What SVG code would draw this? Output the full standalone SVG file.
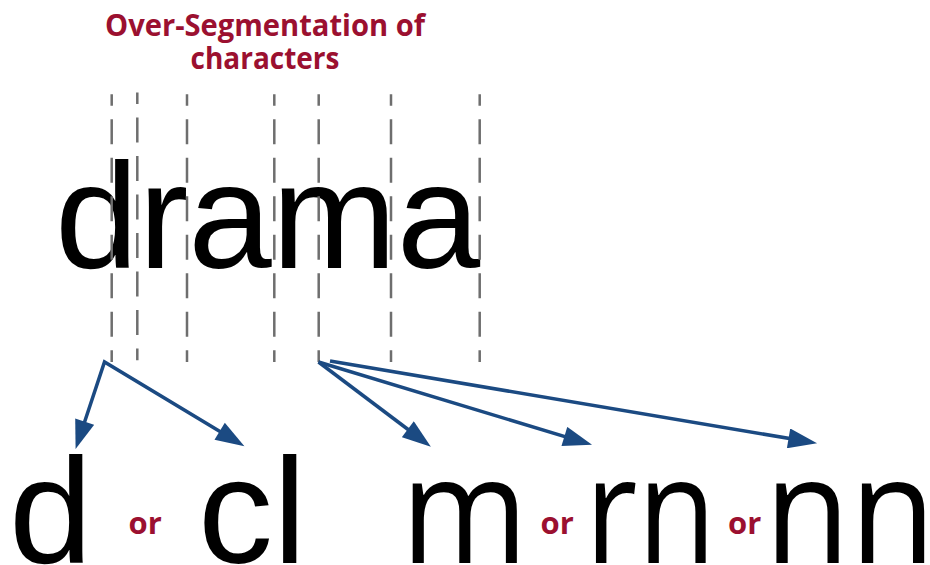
<svg xmlns="http://www.w3.org/2000/svg" width="930" height="565" viewBox="0 0 930 565">
<style>
.title{font-family:"Open Sans","Noto Sans",sans-serif;font-weight:bold;font-size:30px;fill:#9b1030;text-anchor:middle}
.big{font-family:"Liberation Sans",Arial,sans-serif;font-size:150px;fill:#000}
.hum{font-family:"Open Sans","Noto Sans",sans-serif;font-size:148px;fill:#000}
.or{font-family:"Open Sans","Noto Sans",sans-serif;font-weight:bold;font-size:31px;fill:#9b1030}
.seg{stroke:#6e6e6e;stroke-width:2.5;stroke-dasharray:25 13.5;stroke-dashoffset:13.5;fill:none}
.arr{stroke:#1b4a82;stroke-width:3.5;fill:none;marker-end:url(#ah)}
</style>
<defs>
<marker id="ah" markerUnits="userSpaceOnUse" markerWidth="30" markerHeight="20" viewBox="0 0 26 18" refX="16" refY="9" orient="auto">
<path d="M0,0 L26,9 L0,18 Z" fill="#1b4a82"/>
</marker>
<marker id="ahs" markerUnits="userSpaceOnUse" markerWidth="30" markerHeight="20" viewBox="0 0 26 18" refX="16" refY="9" orient="auto-start-reverse">
<path d="M0,0 L26,9 L0,18 Z" fill="#1b4a82"/>
</marker>
</defs>
<g id="title">
<text class="title" x="265" y="35.7" textLength="320" lengthAdjust="spacingAndGlyphs">Over-Segmentation of</text>
<text class="title" x="265" y="69" textLength="149" lengthAdjust="spacingAndGlyphs">characters</text>
</g>
<g id="word-drama">
<text class="big" x="55" y="268">drama</text>
</g>
<g id="segmentation-lines">
<line class="seg" x1="111.7" y1="94.3" x2="111.7" y2="362"/>
<line class="seg" x1="137.3" y1="92.6" x2="137.3" y2="360.3" style="stroke-dashoffset:13.5"/>
<line class="seg" x1="187" y1="94.3" x2="187" y2="362"/>
<line class="seg" x1="274.3" y1="94.3" x2="274.3" y2="362"/>
<line class="seg" x1="318.7" y1="94.3" x2="318.7" y2="362"/>
<line class="seg" x1="391" y1="94.3" x2="391" y2="362"/>
<line class="seg" x1="479.7" y1="94.3" x2="479.7" y2="362"/>
</g>
<g id="connectors">
<path d="M79.1,438.5 L104.5,362 L234.9,440.4" stroke="#1b4a82" stroke-width="3.5" fill="none" marker-start="url(#ahs)" marker-end="url(#ahs)"/>
<path class="arr" d="M318.5,362 L422,440"/>
<path class="arr" d="M318.5,362 L581.4,441.6"/>
<path class="arr" d="M330,361 L806.1,441.3"/>
</g>
<g id="node-d"><text class="big" x="9" y="563">d</text></g>
<g id="or-1"><text class="or" x="128.5" y="534">or</text></g>
<g id="node-cl"><text class="big" x="198" y="563">cl</text></g>
<g id="node-m"><text class="hum" x="401" y="563" textLength="127" lengthAdjust="spacingAndGlyphs">m</text></g>
<g id="or-2"><text class="or" x="540.5" y="534">or</text></g>
<g id="node-rn"><text class="hum" x="585" y="563" textLength="131" lengthAdjust="spacingAndGlyphs">rn</text></g>
<g id="or-3"><text class="or" x="728" y="534">or</text></g>
<g id="node-nn"><text class="hum" x="764.5" y="563" textLength="171" lengthAdjust="spacingAndGlyphs">nn</text></g>
</svg>
